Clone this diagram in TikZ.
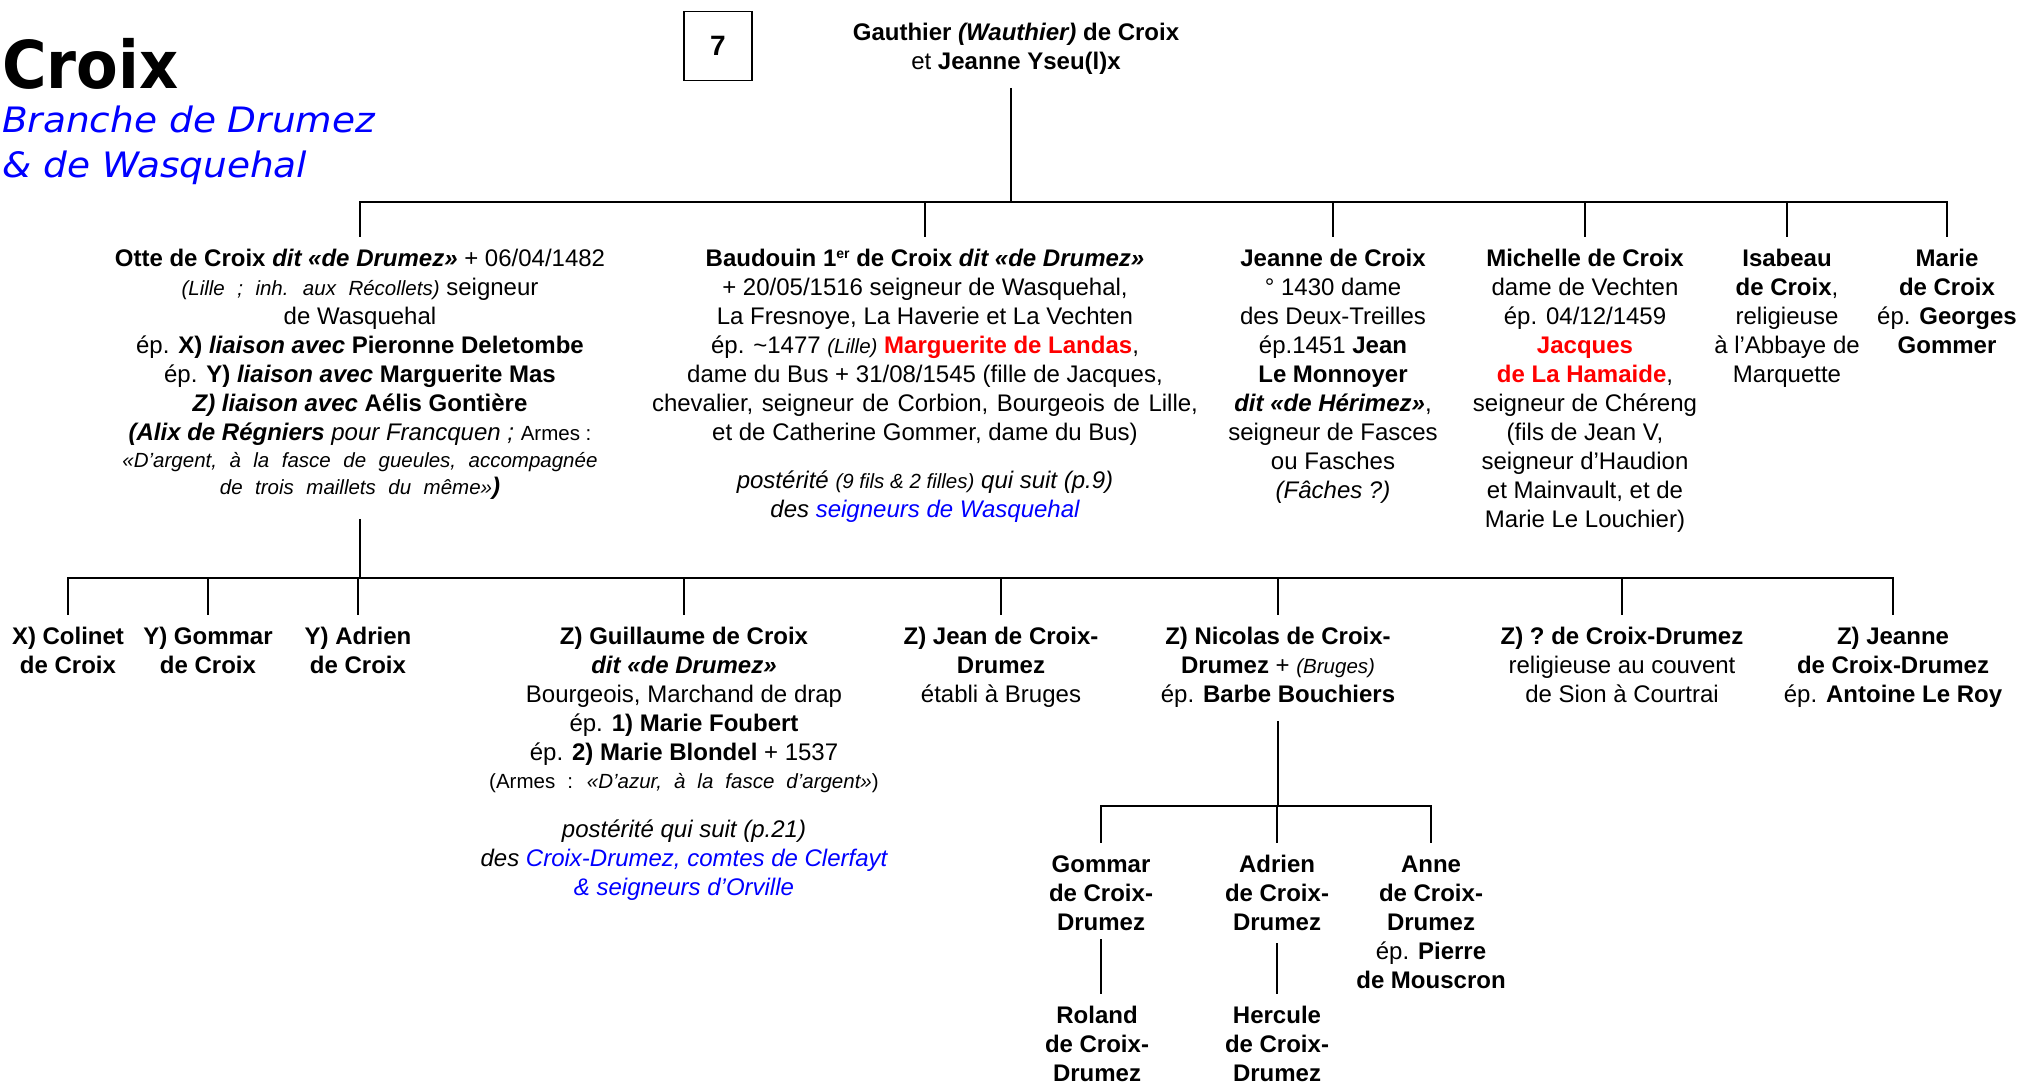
\documentclass[tikz,border=0pt]{standalone}
\usepackage{fontspec}
\setmainfont{Liberation Sans}
\newfontfamily\titlefont[FakeStretch=0.92]{DejaVu Sans}
\newfontfamily\subtitlefont[FakeStretch=1.07]{DejaVu Sans}
\definecolor{LinkBlue}{HTML}{0000FF}
\definecolor{SpouseRed}{HTML}{FF0000}
\newcommand{\smalltxt}[1]{{\fontsize{20.5}{24}\selectfont #1}}
\newcommand{\widetxt}[1]{{\fontsize{20.5}{24}\selectfont\spaceskip=12.5pt #1}}
\newcommand{\topstrut}{\rule{0pt}{20pt}}
\newcommand{\ordsup}[1]{\raisebox{8pt}{\fontsize{14}{14}\selectfont #1}}

\begin{document}
\begin{tikzpicture}[x=1pt,y=-1pt,
    every node/.style={inner sep=0pt},
    person/.style={align=center,anchor=north,outer sep=0pt,outer ysep=9pt,
                   font=\fontsize{24}{29}\selectfont},
    link/.style={line width=2.8pt}]
  \useasboundingbox (0,0) rectangle (2019,1084);

  % title
  \node[anchor=base west,font=\titlefont\bfseries\fontsize{66}{70}\selectfont] (title) at (2,88) {Croix};
  \node[anchor=base west,font=\subtitlefont\itshape\fontsize{35}{45}\selectfont,text=LinkBlue] (branch1) at (2,132) {Branche de Drumez};
  \node[anchor=base west,font=\subtitlefont\itshape\fontsize{35}{45}\selectfont,text=LinkBlue] (branch2) at (2,177) {\& de Wasquehal};

  \node[draw,line width=1.2pt,minimum width=68pt,minimum height=69pt,
        font=\fontsize{28}{30}\selectfont\bfseries] (page) at (718,46) {7};

  \node[person] (gauthier) at (1016,11)
    {\topstrut\textbf{Gauthier \textit{(Wauthier)} de Croix}\\
     et \textbf{Jeanne Yseu(l)x}};

  % generation 2
  \node[person] (otte) at (360,237)
    {\topstrut\textbf{Otte de Croix \textit{dit «de Drumez»}} + 06/04/1482\\
     \widetxt{\textit{(Lille ; inh. aux Récollets)}} seigneur\\
     de Wasquehal\\
     ép. \textbf{X) \textit{liaison avec} Pieronne Deletombe}\\
     ép. \textbf{Y) \textit{liaison avec} Marguerite Mas}\\
     \textbf{\textit{Z) liaison avec} Aélis Gontière}\\
     \textbf{\textit{(Alix de Régniers}} \textit{pour Francquen ;} \smalltxt{Armes :}\\[-2pt]
     \widetxt{\textit{«D’argent, à la fasce de gueules, accompagnée}}\\[-2pt]
     \widetxt{\textit{de trois maillets du même»}}\textbf{\textit{)}}};

  \node[person] (baudouin) at (925,237)
    {\topstrut\textbf{Baudouin 1\ordsup{er} de Croix \textit{dit «de Drumez»}}\\
     + 20/05/1516 seigneur de Wasquehal,\\
     La Fresnoye, La Haverie et La Vechten\\
     ép. \textasciitilde1477 \smalltxt{\textit{(Lille)}} \textcolor{SpouseRed}{\textbf{Marguerite de Landas}},\\
     dame du Bus + 31/08/1545 (fille de Jacques,\\
     {\spaceskip=8.5pt chevalier, seigneur de Corbion, Bourgeois de Lille,}\\
     et de Catherine Gommer, dame du Bus)\\[19pt]
     \textit{postérité \smalltxt{(9 fils \& 2 filles)} qui suit (p.9)}\\
     \textit{des \textcolor{LinkBlue}{seigneurs de Wasquehal}}};

  \node[person] (jeanne) at (1333,237)
    {\topstrut\textbf{Jeanne de Croix}\\
     ° 1430 dame\\
     des Deux-Treilles\\
     ép.1451 \textbf{Jean}\\
     \textbf{Le Monnoyer}\\
     \textbf{\textit{dit «de Hérimez»}},\\
     seigneur de Fasces\\
     ou Fasches\\
     \textit{(Fâches ?)}};

  \node[person] (michelle) at (1585,237)
    {\topstrut\textbf{Michelle de Croix}\\
     dame de Vechten\\
     ép. 04/12/1459\\
     \textcolor{SpouseRed}{\textbf{Jacques}}\\
     \textcolor{SpouseRed}{\textbf{de La Hamaide}},\\
     seigneur de Chéreng\\
     (fils de Jean V,\\
     seigneur d’Haudion\\
     et Mainvault, et de\\
     Marie Le Louchier)};

  \node[person] (isabeau) at (1787,237)
    {\topstrut\textbf{Isabeau}\\
     \textbf{de Croix},\\
     religieuse\\
     à l’Abbaye de\\
     Marquette};

  \node[person] (marie) at (1947,237)
    {\topstrut\textbf{Marie}\\
     \textbf{de Croix}\\
     ép. \textbf{Georges}\\
     \textbf{Gommer}};

  % generation 3
  \node[person] (colinet) at (68,615) {\topstrut\textbf{X) Colinet}\\ \textbf{de Croix}};
  \node[person] (gommarY) at (208,615) {\topstrut\textbf{Y) Gommar}\\ \textbf{de Croix}};
  \node[person] (adrienY) at (358,615) {\topstrut\textbf{Y) Adrien}\\ \textbf{de Croix}};

  \node[person] (guillaume) at (684,615)
    {\topstrut\textbf{Z) Guillaume de Croix}\\
     \textbf{\textit{dit «de Drumez»}}\\
     Bourgeois, Marchand de drap\\
     ép. \textbf{1) Marie Foubert}\\
     ép. \textbf{2) Marie Blondel} + 1537\\[-1pt]
     {\fontsize{20.5}{24}\selectfont\spaceskip=12pt (Armes : \textit{«D’azur, à la fasce d’argent»})}\\[20pt]
     \textit{postérité qui suit (p.21)}\\
     \textit{des \textcolor{LinkBlue}{Croix-Drumez, comtes de Clerfayt}}\\
     \textit{\textcolor{LinkBlue}{\& seigneurs d’Orville}}};

  \node[person] (jean) at (1001,615)
    {\topstrut\textbf{Z) Jean de Croix-}\\ \textbf{Drumez}\\ établi à Bruges};
  \node[person] (nicolas) at (1278,615)
    {\topstrut\textbf{Z) Nicolas de Croix-}\\ \textbf{Drumez} + \smalltxt{\textit{(Bruges)}}\\ ép. \textbf{Barbe Bouchiers}};
  \node[person] (inconnue) at (1622,615)
    {\topstrut\textbf{Z) ? de Croix-Drumez}\\ religieuse au couvent\\ de Sion à Courtrai};
  \node[person] (jeanneZ) at (1893,615)
    {\topstrut\textbf{Z) Jeanne}\\ \textbf{de Croix-Drumez}\\ ép. \textbf{Antoine Le Roy}};

  % generation 4 and 5
  \node[person] (gommarD) at (1101,843) {\topstrut\textbf{Gommar}\\ \textbf{de Croix-}\\ \textbf{Drumez}};
  \node[person] (adrienD) at (1277,843) {\topstrut\textbf{Adrien}\\ \textbf{de Croix-}\\ \textbf{Drumez}};
  \node[person] (anne) at (1431,843)
    {\topstrut\textbf{Anne}\\ \textbf{de Croix-}\\ \textbf{Drumez}\\ ép. \textbf{Pierre}\\ \textbf{de Mouscron}};

  \node[person] (roland) at (1097,994) {\topstrut\textbf{Roland}\\ \textbf{de Croix-}\\ \textbf{Drumez}};
  \node[person] (hercule) at (1277,994) {\topstrut\textbf{Hercule}\\ \textbf{de Croix-}\\ \textbf{Drumez}};

  % connectors
  \coordinate (bar1) at (1011,202);
  \coordinate (bar2) at (360,578);
  \coordinate (bar3) at (1278,806);

  \draw[link] ([yshift=-5pt]gauthier.south -| bar1) -- (bar1);
  \foreach \c in {otte,baudouin,jeanne,michelle,isabeau,marie}
    \draw[link] (bar1) -| (\c.north);

  \draw[link] ([yshift=-11pt]otte.south) -- (bar2);
  \foreach \c in {colinet,gommarY,adrienY,guillaume,jean,nicolas,inconnue,jeanneZ}
    \draw[link] (bar2) -| (\c.north);

  \draw[link] ([yshift=-5pt]nicolas.south) -- (bar3);
  \foreach \c in {gommarD,adrienD,anne}
    \draw[link] (bar3) -| (\c.north);

  \draw[link] (gommarD.south) -- (gommarD.south |- roland.north);
  \draw[link] ([yshift=-4pt]adrienD.south) -- (adrienD.south |- hercule.north);
\end{tikzpicture}
\end{document}
